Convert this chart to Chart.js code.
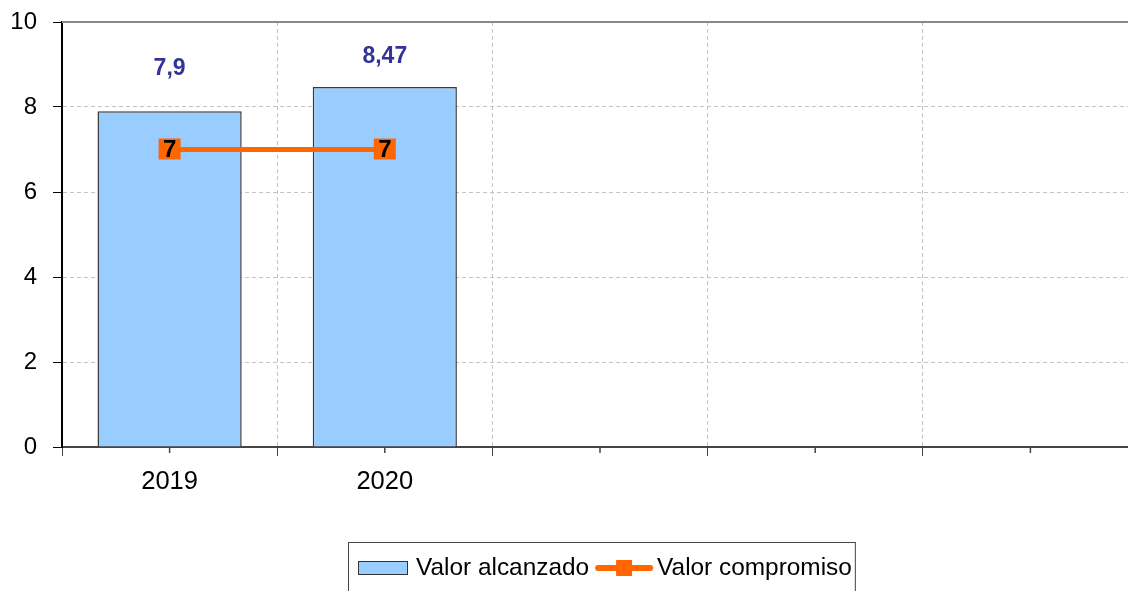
<!DOCTYPE html>
<html>
<head>
<meta charset="utf-8">
<script src="https://cdn.jsdelivr.net/npm/chart.js@4.4.1/dist/chart.umd.min.js"></script>
<style>
  html, body { margin: 0; padding: 0; background: #fff; overflow: hidden; }
  #wrap { width: 1128px; height: 591px; overflow: hidden; position: relative; }
  #chart { position: absolute; left: 0; top: 0; }
</style>
</head>
<body>
<div id="wrap"><canvas id="chart" width="1149" height="591"></canvas></div>
<script>
'use strict';

// chart data
const categories = ['2019', '2020', '', '', ''];
const valorAlcanzado = [7.9, 8.47, null, null, null];
const valorCompromiso = [7, 7, null, null, null];
const yStep = 2;
const yMax = 10;
const seriesNames = ['Valor alcanzado', 'Valor compromiso'];

const FONT = "'Liberation Sans', Arial, sans-serif";
Chart.defaults.font.family = FONT;

// format 7.9 -> "7,9"
function fmt(v) {
  return String(v).replace('.', ',');
}

// Extra drawing: top border, minor ticks, value labels and the boxed legend
const decorPlugin = {
  id: 'decor',
  afterDatasetsDraw(chart) {
    const ctx = chart.ctx;
    const area = chart.chartArea;
    const xScale = chart.scales.x;
    const yScale = chart.scales.y;
    ctx.save();

    // top border of the plot
    ctx.strokeStyle = '#8a8a8a';
    ctx.lineWidth = 2;
    ctx.beginPath();
    ctx.moveTo(area.left, area.top);
    ctx.lineTo(area.right, area.top);
    ctx.stroke();

    // minor ticks at category centres
    ctx.strokeStyle = '#444';
    ctx.lineWidth = 1.5;
    categories.forEach((c, i) => {
      const px = xScale.getPixelForValue(i);
      ctx.beginPath();
      ctx.moveTo(px, area.bottom);
      ctx.lineTo(px, area.bottom + 6);
      ctx.stroke();
    });

    // bar value labels, halfway between bar top and the top of the plot
    const barMeta = chart.getDatasetMeta(0);
    ctx.font = 'bold 23px ' + FONT;
    ctx.fillStyle = '#333399';
    ctx.textAlign = 'center';
    ctx.textBaseline = 'middle';
    barMeta.data.forEach((el, i) => {
      const v = valorAlcanzado[i];
      if (v == null) return;
      ctx.fillText(fmt(v), el.x, yScale.getPixelForValue((v + 9.9) / 2));
    });

    // line point labels (orange boxes)
    const lineMeta = chart.getDatasetMeta(1);
    ctx.font = 'bold 24px ' + FONT;
    lineMeta.data.forEach((el, i) => {
      if (valorCompromiso[i] == null) return;
      ctx.fillStyle = '#FF6600';
      ctx.fillRect(el.x - 11, el.y - 11, 22, 21);
      ctx.fillStyle = '#000';
      ctx.fillText(fmt(valorCompromiso[i]), el.x, el.y + 1);
    });

    ctx.restore();
  },
  afterDraw(chart) {
    const ctx = chart.ctx;
    const area = chart.chartArea;
    ctx.save();
    ctx.font = '24.4px ' + FONT;
    const w1 = ctx.measureText(seriesNames[0]).width;
    const w2 = ctx.measureText(seriesNames[1]).width;
    const total = 10 + 50 + 8 + w1 + 6 + 58 + 4 + w2 + 3;
    const left = Math.round((area.left + area.right) / 2 - total / 2) + 1;
    const top = 542;
    const cy = 568;

    ctx.strokeStyle = '#444';
    ctx.lineWidth = 1;
    ctx.strokeRect(left + 0.5, top + 0.5, total, 80);

    // bar swatch
    let x = left + 10;
    ctx.fillStyle = '#99CCFF';
    ctx.fillRect(x, cy - 7, 50, 14);
    ctx.strokeStyle = '#333';
    ctx.strokeRect(x + 0.5, cy - 6.5, 49, 13);
    x += 58;
    ctx.fillStyle = '#000';
    ctx.textBaseline = 'middle';
    ctx.textAlign = 'left';
    ctx.fillText(seriesNames[0], x, cy);
    x += w1 + 6;

    // line swatch
    ctx.strokeStyle = '#FF6600';
    ctx.lineWidth = 6;
    ctx.lineCap = 'round';
    ctx.beginPath();
    ctx.moveTo(x + 3, cy);
    ctx.lineTo(x + 55, cy);
    ctx.stroke();
    ctx.fillStyle = '#FF6600';
    ctx.fillRect(x + 29 - 8, cy - 8, 16, 16);
    x += 62;
    ctx.fillStyle = '#000';
    ctx.fillText(seriesNames[1], x, cy);

    ctx.restore();
  }
};

new Chart(document.getElementById('chart'), {
  type: 'bar',
  data: {
    labels: categories,
    datasets: [
      {
        type: 'bar',
        label: seriesNames[0],
        data: valorAlcanzado,
        backgroundColor: '#99CCFF',
        borderColor: '#3a3a3a',
        borderWidth: 1.5,
        barPercentage: 0.67,
        categoryPercentage: 1,
        order: 2
      },
      {
        type: 'line',
        label: seriesNames[1],
        data: valorCompromiso,
        borderColor: '#FF6600',
        backgroundColor: '#FF6600',
        borderWidth: 5,
        pointStyle: 'rect',
        pointRadius: 6,
        spanGaps: false,
        order: 1
      }
    ]
  },
  options: {
    responsive: false,
    animation: false,
    layout: { padding: { top: 22, right: 3, left: 0, bottom: 0 } },
    plugins: {
      legend: { display: false },
      tooltip: { enabled: false }
    },
    scales: {
      x: {
        grid: {
          offset: true,
          color: ctx => (ctx.index === 0 ? 'rgba(0,0,0,0)' : '#c4c4c4'),
          tickColor: '#444',
          tickLength: 9,
          lineWidth: 1
        },
        border: { color: '#444', width: 2, dash: [4, 3] },
        ticks: { padding: 11, color: '#000', font: { size: 25.5 } },
        afterFit: s => {
          s.height = 144;
          s.paddingLeft = 0;
          s.paddingRight = 0;
        }
      },
      y: {
        min: 0,
        max: yMax,
        grid: {
          color: ctx => (ctx.tick && (ctx.tick.value === 0 || ctx.tick.value === yMax) ? 'rgba(0,0,0,0)' : '#c4c4c4'),
          tickColor: '#000',
          tickLength: 9,
          lineWidth: 1
        },
        border: { color: '#000', width: 2, dash: [4, 3] },
        ticks: { stepSize: yStep, padding: 16, color: '#000', font: { size: 24 } },
        afterFit: s => {
          s.width = 62;
          s.paddingTop = 0;
          s.paddingBottom = 0;
        }
      }
    }
  },
  plugins: [decorPlugin]
});
</script>
</body>
</html>
